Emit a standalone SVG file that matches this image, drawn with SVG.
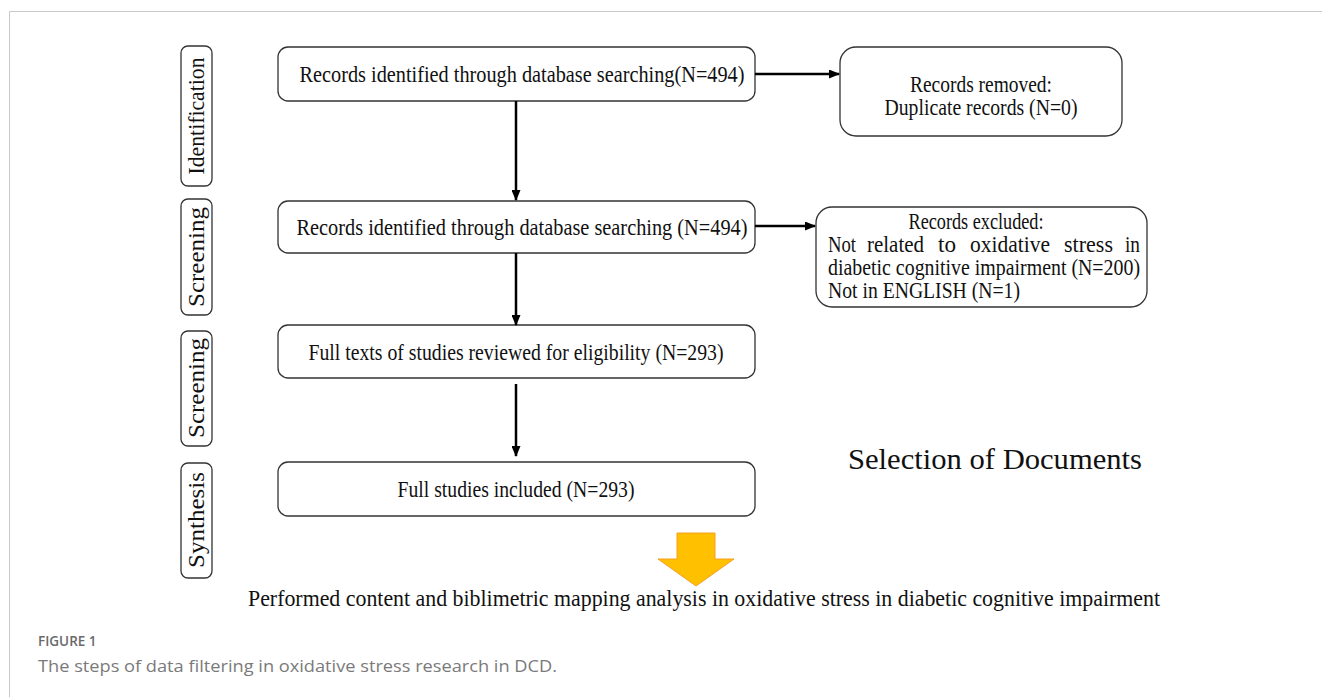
<svg xmlns="http://www.w3.org/2000/svg" width="1322" height="697" viewBox="0 0 1322 697">
<style>
.box{fill:#fff;stroke:#333;stroke-width:1.3}
.t{font-family:"Liberation Serif","Times New Roman",serif;fill:#111}
.c{text-anchor:middle}
.conn{stroke:#000;stroke-width:2.5;fill:none}
.cap{font-family:"Open Sans","Noto Sans",sans-serif}
</style>
<defs>
<marker id="ah" markerWidth="11" markerHeight="9" refX="10" refY="4.5" orient="auto" markerUnits="userSpaceOnUse">
<path d="M0,0 L11,4.5 L0,9 Z" fill="#000"/>
</marker>
</defs>
<rect width="1322" height="697" fill="#fff"/>
<path d="M9.5,697 V11.5 H1322" fill="none" stroke="#c8c8c8" stroke-width="1"/>

<g id="label-identification">
<rect class="box" x="181" y="46" width="31" height="140" rx="7"/>
<text class="t c" transform="translate(204,116) rotate(-90)" font-size="24" textLength="117" lengthAdjust="spacingAndGlyphs">Identification</text>
</g>
<g id="label-screening1">
<rect class="box" x="181" y="199" width="31" height="116" rx="7"/>
<text class="t c" transform="translate(204,257) rotate(-90)" font-size="24" textLength="100" lengthAdjust="spacingAndGlyphs">Screening</text>
</g>
<g id="label-screening2">
<rect class="box" x="181" y="331" width="31" height="115" rx="7"/>
<text class="t c" transform="translate(204,388) rotate(-90)" font-size="24" textLength="100" lengthAdjust="spacingAndGlyphs">Screening</text>
</g>
<g id="label-synthesis">
<rect class="box" x="181" y="463" width="31" height="115" rx="7"/>
<text class="t c" transform="translate(204,520) rotate(-90)" font-size="24" textLength="96" lengthAdjust="spacingAndGlyphs">Synthesis</text>
</g>

<g id="node-identified">
<rect class="box" x="278" y="47" width="477" height="54" rx="10"/>
<text class="t c" x="522" y="82" font-size="24" textLength="445" lengthAdjust="spacingAndGlyphs">Records identified through database searching(N=494)</text>
</g>
<g id="node-removed">
<rect class="box" x="840" y="47" width="282" height="89" rx="16"/>
<text class="t c" x="981" y="92" font-size="23" textLength="142" lengthAdjust="spacingAndGlyphs">Records removed:</text>
<text class="t c" x="981" y="115" font-size="23" textLength="193" lengthAdjust="spacingAndGlyphs">Duplicate records (N=0)</text>
</g>
<g id="node-screened">
<rect class="box" x="278" y="201" width="477" height="52" rx="10"/>
<text class="t c" x="522" y="235" font-size="24" textLength="451" lengthAdjust="spacingAndGlyphs">Records identified through database searching (N=494)</text>
</g>
<g id="node-excluded">
<rect class="box" x="816" y="207" width="331" height="100" rx="16"/>
<text class="t c" x="976" y="229" font-size="23" textLength="135" lengthAdjust="spacingAndGlyphs">Records excluded:</text>
<text class="t" y="252" font-size="23"><tspan x="828" textLength="28" lengthAdjust="spacingAndGlyphs">Not</tspan><tspan x="867" textLength="57" lengthAdjust="spacingAndGlyphs">related</tspan><tspan x="938" textLength="18" lengthAdjust="spacingAndGlyphs">to</tspan><tspan x="970" textLength="80" lengthAdjust="spacingAndGlyphs">oxidative</tspan><tspan x="1064" textLength="49" lengthAdjust="spacingAndGlyphs">stress</tspan><tspan x="1125" textLength="15" lengthAdjust="spacingAndGlyphs">in</tspan></text>
<text class="t" x="828" y="275" font-size="23" textLength="312" lengthAdjust="spacingAndGlyphs">diabetic cognitive impairment (N=200)</text>
<text class="t" x="828" y="298" font-size="23" textLength="192" lengthAdjust="spacingAndGlyphs">Not in ENGLISH (N=1)</text>
</g>
<g id="node-fulltext">
<rect class="box" x="278" y="325" width="477" height="53" rx="10"/>
<text class="t c" x="516" y="360" font-size="24" textLength="415" lengthAdjust="spacingAndGlyphs">Full texts of studies reviewed for eligibility (N=293)</text>
</g>
<g id="node-included">
<rect class="box" x="278" y="462" width="477" height="54" rx="10"/>
<text class="t c" x="516" y="497" font-size="24" textLength="237" lengthAdjust="spacingAndGlyphs">Full studies included (N=293)</text>
</g>

<g id="title">
<text class="t" x="848" y="469" font-size="30" textLength="294" lengthAdjust="spacingAndGlyphs">Selection of Documents</text>
</g>
<g id="big-arrow">
<path d="M677,533 H715 V559 H734 L696,586 L658,559 H677 Z" fill="#FFC000" stroke="#F4A020" stroke-width="1"/>
</g>
<g id="result">
<text class="t" x="248" y="606" font-size="24" textLength="912" lengthAdjust="spacingAndGlyphs">Performed content and biblimetric mapping analysis in oxidative stress in diabetic cognitive impairment</text>
</g>

<g id="connectors">
<line class="conn" x1="755" y1="74" x2="839" y2="74" marker-end="url(#ah)"/>
<line class="conn" x1="755" y1="226" x2="815" y2="226" marker-end="url(#ah)"/>
<line class="conn" x1="516" y1="101" x2="516" y2="200" marker-end="url(#ah)"/>
<line class="conn" x1="516" y1="253" x2="516" y2="325" marker-end="url(#ah)"/>
<line class="conn" x1="516" y1="384" x2="516" y2="456" marker-end="url(#ah)"/>
</g>

<g id="caption">
<text class="cap" x="38" y="646" font-size="13.5" font-weight="600" fill="#6a6a6a">FIGURE 1</text>
<text class="cap" x="38" y="672" font-size="16" fill="#7a7a7a" textLength="519" lengthAdjust="spacingAndGlyphs">The steps of data filtering in oxidative stress research in DCD.</text>
</g>
</svg>
